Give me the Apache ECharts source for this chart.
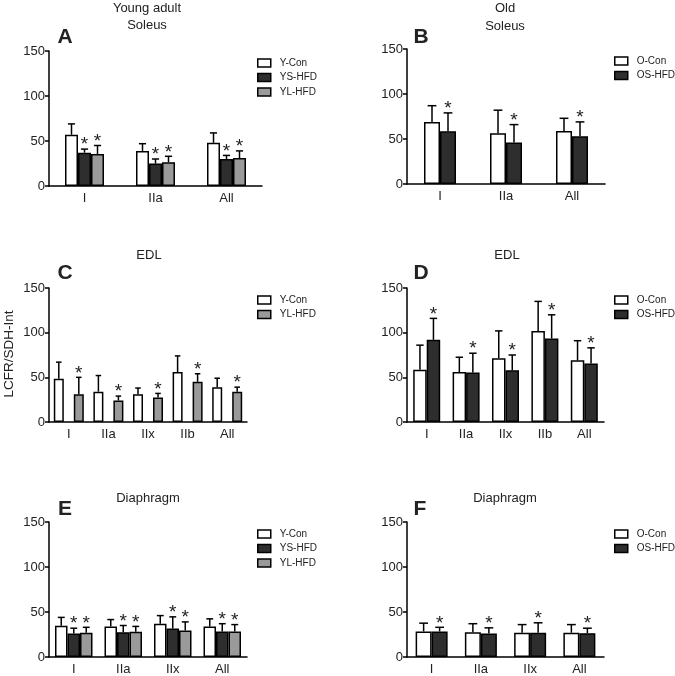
<!DOCTYPE html>
<html>
<head>
<meta charset="utf-8">
<script src="https://cdn.jsdelivr.net/npm/echarts@6/dist/echarts.min.js"></script>
<style>html,body{margin:0;padding:0;background:#fff;}#c{width:675px;height:676px;}</style>
</head>
<body>
<div id="c"></div>
<script>
// ---- categories ----
const catsSoleus = ['I', 'IIa', 'All'];
const catsEDL = ['I', 'IIa', 'IIx', 'IIb', 'All'];
const catsDia = ['I', 'IIa', 'IIx', 'All'];
const yTicks = [0, 50, 100, 150];

// ---- Panel A: Young adult Soleus ----
const A_YCon = [57, 39, 48];       const A_YCon_sd = [12, 8, 11];
const A_YS   = [37, 25, 30];       const A_YS_sd   = [4, 5, 4];
const A_YL   = [35.5, 26.5, 31];   const A_YL_sd   = [9.5, 6.5, 8];
// ---- Panel B: Old Soleus ----
const B_OCon = [69, 56.5, 59];     const B_OCon_sd = [18, 25.5, 14];
const B_OS   = [58.5, 46, 53];     const B_OS_sd   = [20.5, 20, 16];
// ---- Panel C: Young EDL ----
const C_YCon = [48.5, 34, 31, 56, 39];   const C_YCon_sd = [18.5, 18, 7, 18, 10];
const C_YL   = [31, 24, 27.5, 45, 34];   const C_YL_sd   = [19, 5, 4.5, 9, 5];
// ---- Panel D: Old EDL ----
const D_OCon = [58.5, 56, 71.5, 102, 69];  const D_OCon_sd = [27.5, 16.5, 30.5, 33, 22];
const D_OS   = [92, 55.5, 58, 93.5, 65.5]; const D_OS_sd   = [24, 21.5, 17, 26.5, 17.5];
// ---- Panel E: Young Diaphragm ----
const E_YCon = [34.6, 34, 37, 34];     const E_YCon_sd = [9.4, 7.6, 9, 8.4];
const E_YS   = [26, 27.6, 31.7, 28.4]; const E_YS_sd   = [6, 7.4, 12.9, 8.6];
const E_YL   = [27, 28, 29.5, 28.4];   const E_YL_sd   = [6, 6, 9.5, 7.6];
// ---- Panel F: Old Diaphragm ----
const F_OCon = [28.4, 27.6, 27, 27];   const F_OCon_sd = [9.2, 9.4, 9, 9];
const F_OS   = [28.4, 26, 27, 26.5];   const F_OS_sd   = [4.6, 6.4, 11, 5.5];

const FONT = '"Liberation Sans", Arial, sans-serif';
const TXT = '#222';
const COLORS = { 'Y-Con': '#ffffff', 'O-Con': '#ffffff', 'YS-HFD': '#2e2e2e', 'OS-HFD': '#2e2e2e', 'YL-HFD': '#9a9a9a' };

const panels = [
  { grid: { left: 49, top: 51, width: 213, height: 135 }, cats: catsSoleus, bw: 13, gapPx: 0,
    legend: { left: 257, top: 58 },
    series: [['Y-Con', A_YCon, A_YCon_sd, false], ['YS-HFD', A_YS, A_YS_sd, true], ['YL-HFD', A_YL, A_YL_sd, true]] },
  { grid: { left: 407, top: 49, width: 198, height: 135 }, cats: catsSoleus, bw: 16, gapPx: 0,
    legend: { left: 614, top: 56 },
    series: [['O-Con', B_OCon, B_OCon_sd, false], ['OS-HFD', B_OS, B_OS_sd, true]] },
  { grid: { left: 49, top: 288, width: 198, height: 134 }, cats: catsEDL, bw: 10, gapPx: 10,
    legend: { left: 257, top: 295 },
    series: [['Y-Con', C_YCon, C_YCon_sd, false], ['YL-HFD', C_YL, C_YL_sd, true]] },
  { grid: { left: 407, top: 288, width: 197, height: 134 }, cats: catsEDL, bw: 13.5, gapPx: 0,
    legend: { left: 614, top: 295 },
    series: [['O-Con', D_OCon, D_OCon_sd, false], ['OS-HFD', D_OS, D_OS_sd, true]] },
  { grid: { left: 49, top: 522, width: 198, height: 135 }, cats: catsDia, bw: 12.5, gapPx: 0,
    legend: { left: 257, top: 529 },
    series: [['Y-Con', E_YCon, E_YCon_sd, false], ['YS-HFD', E_YS, E_YS_sd, true], ['YL-HFD', E_YL, E_YL_sd, true]] },
  { grid: { left: 407, top: 522, width: 197, height: 135 }, cats: catsDia, bw: 16, gapPx: 0,
    legend: { left: 614, top: 529 },
    series: [['O-Con', F_OCon, F_OCon_sd, false], ['OS-HFD', F_OS, F_OS_sd, true]] }
];

const grids = [], xAxes = [], yAxes = [], series = [], legends = [];
panels.forEach((p, gi) => {
  grids.push(Object.assign({ containLabel: false }, p.grid));
  xAxes.push({
    type: 'category', gridIndex: gi, data: p.cats,
    axisLine: { lineStyle: { color: '#000', width: 1.5 } },
    axisTick: { show: false },
    axisLabel: { color: TXT, fontFamily: FONT, fontSize: 13, margin: 6 }
  });
  yAxes.push({
    type: 'value', gridIndex: gi, min: yTicks[0], max: yTicks[yTicks.length - 1], interval: 50,
    axisLine: { show: true, lineStyle: { color: '#000', width: 1.5 } },
    axisTick: { show: true, length: 4, lineStyle: { color: '#000', width: 1.5 } },
    axisLabel: { color: TXT, fontFamily: FONT, fontSize: 13, margin: 4 },
    splitLine: { show: false }
  });
  const n = p.series.length;
  const total = n * p.bw + (n - 1) * p.gapPx;
  const names = [];
  p.series.forEach((s, si) => {
    const [name, vals, sds, star] = s;
    names.push(name);
    series.push({
      type: 'bar', name: name, xAxisIndex: gi, yAxisIndex: gi, data: vals,
      barWidth: p.bw, barGap: (p.gapPx / p.bw * 100) + '%',
      itemStyle: { color: COLORS[name], borderColor: '#000', borderWidth: 1.5 },
      silent: true, z: 2
    });
    const offset = -total / 2 + si * (p.bw + p.gapPx) + p.bw / 2;
    const cap = p.bw * 0.55;
    series.push({
      type: 'custom', name: 'err-' + gi + '-' + si, xAxisIndex: gi, yAxisIndex: gi,
      data: vals.map((v, i) => [i, v, sds[i]]),
      encode: { x: 0, y: 1 }, silent: true, z: 3,
      renderItem: function (params, api) {
        const ci = api.value(0), m = api.value(1), sd = api.value(2);
        const x = api.coord([ci, 0])[0] + offset;
        const yM = api.coord([ci, m])[1];
        const yT = api.coord([ci, m + sd])[1];
        const ch = [
          { type: 'line', shape: { x1: x, y1: yM, x2: x, y2: yT }, style: { stroke: '#000', lineWidth: 1.5 } },
          { type: 'line', shape: { x1: x - cap / 2, y1: yT, x2: x + cap / 2, y2: yT }, style: { stroke: '#000', lineWidth: 1.5 } }
        ];
        if (star) {
          ch.push({ type: 'text', x: x, y: yT - 4, style: { text: '*', fill: TXT, font: '19px ' + FONT, textAlign: 'center', textVerticalAlign: 'middle' } });
        }
        return { type: 'group', children: ch };
      }
    });
  });
  legends.push({
    data: names, orient: 'vertical', left: p.legend.left, top: p.legend.top, padding: 0,
    itemWidth: 13, itemHeight: 8, itemGap: 4.5, selectedMode: false,
    icon: 'rect',
    itemStyle: { borderColor: '#000', borderWidth: 1.5 },
    textStyle: { color: TXT, fontFamily: FONT, fontSize: 10, padding: [0, 0, 0, 4] }
  });
});

function txt(t, x, y, size, bold, rot) {
  return { type: 'text', x: x, y: y, rotation: rot || 0,
    style: { text: t, fill: TXT, font: (bold ? 'bold ' : '') + size + 'px ' + FONT, textAlign: 'center', textVerticalAlign: 'middle' } };
}
const graphics = [
  txt('Young adult', 147, 8, 13), txt('Soleus', 147, 25, 13), txt('A', 65, 37, 21, true),
  txt('Old', 505, 8, 13), txt('Soleus', 505, 26, 13), txt('B', 421, 37, 21, true),
  txt('EDL', 149, 255, 13), txt('C', 65, 273, 21, true),
  txt('EDL', 507, 255, 13), txt('D', 421, 273, 21, true),
  txt('Diaphragm', 148, 498, 13), txt('E', 65, 509, 21, true),
  txt('Diaphragm', 505, 498, 13), txt('F', 420, 509, 21, true),
  txt('LCFR/SDH-Int', 9, 354, 13.5, false, Math.PI / 2)
];

const chart = echarts.init(document.getElementById('c'), null, { renderer: 'canvas' });
chart.setOption({
  animation: false, backgroundColor: '#fff',
  grid: grids, xAxis: xAxes, yAxis: yAxes, series: series, legend: legends,
  graphic: graphics
});
</script>
</body>
</html>
